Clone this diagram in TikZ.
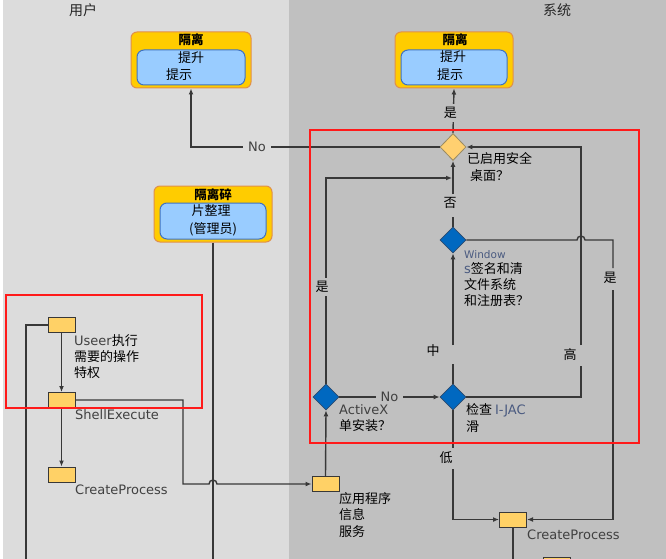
\documentclass[tikz,border=0pt]{standalone}
\usepackage{fontspec}
\setmainfont{Noto Sans CJK SC}
\newfontfamily\lat{DejaVu Sans}
\usetikzlibrary{shapes.geometric,arrows.meta}
\definecolor{userbg}{HTML}{DCDCDC}
\definecolor{sysbg}{HTML}{C0C0C0}
\definecolor{boxy}{HTML}{FFD166}
\definecolor{outery}{HTML}{FFCC00}
\definecolor{outerb}{HTML}{E0904A}
\definecolor{innerb}{HTML}{99CCFF}
\definecolor{innerd}{HTML}{3F72C0}
\definecolor{dblue}{HTML}{0068C0}
\definecolor{dblueb}{HTML}{2C4A6E}
\definecolor{ydia}{HTML}{FFD070}
\definecolor{ydiab}{HTML}{9A8A60}
\definecolor{ln}{HTML}{383838}
\definecolor{latgray}{HTML}{404040}
\definecolor{latblue}{HTML}{4A5A80}
\definecolor{redr}{HTML}{FF1A1A}
\tikzset{
  conn/.style={draw=ln, line width=1.4pt},
  arr/.style={conn, -{Latex[length=6pt,width=5pt]}},
  sbox/.style={draw=ln, fill=boxy, line width=1pt, minimum width=27pt, minimum height=15pt, inner sep=0pt},
  outerbox/.style={draw=outerb, fill=outery, line width=1pt, rounded corners=6pt, inner sep=0pt},
  innerbox/.style={draw=innerd, fill=innerb, line width=1pt, rounded corners=7pt, inner sep=0pt},
  bdia/.style={diamond, aspect=1, draw=dblueb, fill=dblue, line width=0.8pt, minimum width=26pt, minimum height=26pt, inner sep=0pt},
  ydiastyle/.style={diamond, aspect=1, draw=ydiab, fill=ydia, line width=0.8pt, minimum width=26pt, minimum height=27pt, inner sep=0pt},
  cj/.style={font=\fontsize{13}{15}\selectfont, inner sep=0pt, text=black},
  cjb/.style={font=\bfseries\fontsize{12.5}{15}\selectfont, inner sep=0pt, text=black},
  la/.style={font=\lat\fontsize{13}{15}\selectfont, inner sep=0pt, text=latgray},
  ttl/.style={font=\fontsize{14}{16}\selectfont, inner sep=0pt, text=black!85},
  redbox/.style={draw=redr, line width=2.6pt},
}
\begin{document}
\begin{tikzpicture}[x=1pt,y=-1pt]
\useasboundingbox (0,0) rectangle (666,559);
\clip (0,0) rectangle (666,559);
% lanes
\fill[white] (0,0) rectangle (666,559);
\fill[userbg] (3,0) rectangle (289,559);
\fill[sysbg] (289,0) rectangle (666,559);
\node[ttl, anchor=base] (tuser) at (83,16) {用户};
\node[ttl, anchor=base] (tsys) at (557,16) {系统};

% big boxes
\node[outerbox, minimum width=120pt, minimum height=56pt] (elevL) at (191,60) {};
\node[innerbox, minimum width=108pt, minimum height=35pt] (elevLi) at (191,67.5) {};
\node[cjb, anchor=base] (elevLt) at (191,45) {隔离};
\node[cj, anchor=base] (elevLa) at (191,63) {提升};
\node[cj, anchor=base] (elevLb) at (179,80) {提示};

\node[outerbox, minimum width=118pt, minimum height=56pt] (elevR) at (454,60) {};
\node[innerbox, minimum width=106pt, minimum height=35pt] (elevRi) at (454,67.5) {};
\node[cjb, anchor=base] (elevRt) at (455,45) {隔离};
\node[cj, anchor=base] (elevRa) at (453,62) {提升};
\node[cj, anchor=base] (elevRb) at (450,80) {提示};

\node[outerbox, minimum width=118pt, minimum height=56pt] (defrag) at (213,214) {};
\node[innerbox, minimum width=106pt, minimum height=36pt] (defragi) at (213,221) {};
\node[cjb, anchor=base] (defragt) at (213,199) {隔离碎};
\node[cj, anchor=base] (defraga) at (211,215) {片整理};
\node[cj, anchor=base] (defragb) at (213,233) {(管理员)};

% small boxes
\node[sbox] (u1) at (61.5,325) {};
\node[sbox] (u2) at (61.5,400) {};
\node[sbox] (u3) at (61.5,474.5) {};
\node[sbox] (ais) at (325.5,484) {};
\node[sbox] (cp) at (513,519.5) {};
\node[sbox] (cp2) at (556.5,564.5) {};

% diamonds
\node[ydiastyle] (yd) at (453,147) {};
\node[bdia] (win) at (453,240) {};
\node[bdia] (ax) at (326,397) {};
\node[bdia] (chk) at (453,397) {};

% coordinates
\coordinate (botL) at (26,559);
\coordinate (botM) at (213,559);
\coordinate (botC) at (513,559);
\coordinate (j1) at (452,178);
\coordinate (mA) at (453,364);
\coordinate (mB) at (453,345);
\coordinate (lA) at (453,448);
\coordinate (lB) at (453,469);
\coordinate (hA) at (581,366);
\coordinate (hB) at (581,345);
\coordinate (nA) at (453,217);
\coordinate (nB) at (453,194);
\coordinate (sA) at (613,268);
\coordinate (sB) at (613,290);

% connectors - user lane
\draw[arr] (u1.south) -- (u2.north);
\draw[arr] (u2.south) -- (u3.north);
\draw[conn] (u1.west) -| (botL);
\draw[conn] (defrag.south) -- (botM);
\draw[arr] (u2.east) -- (183,400) -- (183,484) -- (209,484) arc[start angle=180, end angle=0, radius=4pt] -- (ais.west);

% system lane
\draw[arr] (ais.north) -- (ax.south);
\draw[arr] (ax.north) -- node[cj, fill=sysbg, inner sep=3pt, xshift=-4pt, pos=0.47] (lblyes1) {是} (326,178) -- (j1);
\draw[arr] (ax.east) -- node[la, fill=sysbg, inner xsep=5pt, inner ysep=2pt] (lblno2) {No} (chk.west);
\draw[conn] (chk.north) -- (mA);
\draw[arr] (mB) -- (win.south);
\node[cj] (lblmid) at (433,351) {中};
\draw[conn] (chk.south) -- (lA);
\draw[arr] (lB) |- (cp.west);
\node[cj] (lbllow) at (446,458) {低};
\draw[conn] (chk.east) -| (hA);
\draw[arr] (hB) |- (yd.east);
\node[cj] (lblhigh) at (570,355) {高};
\draw[conn] (win.north) -- (nA);
\draw[arr] (nB) -- (yd.south);
\node[cj] (lblno3) at (450,203) {否};
\draw[conn] (win.east) -- (577,240) arc[start angle=180, end angle=0, radius=4pt] -- (613,240) -- (sA);
\draw[arr] (sB) |- (cp.east);
\node[cj] (lblyes2) at (610,278) {是};
\draw[arr] (yd.north) -- node[cj, fill=sysbg, inner sep=3.5pt, pos=0.45, xshift=-3pt] (lblyes3) {是} (elevR.south);
\draw[arr] (yd.west) -- node[la, fill=userbg, inner xsep=5pt, inner ysep=2pt, pos=0.735] (lblno1) {No} (191,147) -- (elevL.south);
\draw[conn] (cp.south) -- (botC);

% node labels
\node[cj, anchor=base west] (ydl1) at (467,163) {已启用安全};
\node[cj, anchor=base west] (ydl2) at (470,180) {桌面？};
\node[cj, anchor=base west, font=\lat\fontsize{10.5}{12}\selectfont, text=latblue] (winl0) at (464,258) {Window};
\node[cj, anchor=base west] (winl1) at (464,273) {{\lat\color{latblue}s}签名和清};
\node[cj, anchor=base west] (winl2) at (464,289) {文件系统};
\node[cj, anchor=base west] (winl3) at (464,305) {和注册表？};
\node[cj, anchor=base west] (chkl1) at (466,414) {检查 {\lat\fontsize{13}{15}\selectfont\color{latblue}I-JAC}};
\node[cj, anchor=base west] (chkl2) at (466,431) {滑};
\node[la, anchor=base west] (axl1) at (339,414) {ActiveX};
\node[cj, anchor=base west] (axl2) at (339,430) {单安装？};
\node[cj, anchor=base west] (aisl1) at (339,503) {应用程序};
\node[cj, anchor=base west] (aisl2) at (339,519) {信息};
\node[cj, anchor=base west] (aisl3) at (339,536) {服务};
\node[cj, anchor=base west] (u1l1) at (74,345) {{\lat\fontsize{13}{15}\selectfont\color{latgray}Useer}执行};
\node[cj, anchor=base west] (u1l2) at (74,361) {需要的操作};
\node[cj, anchor=base west] (u1l3) at (74,377) {特权};
\node[la, anchor=base west] (u2l) at (75,419) {ShellExecute};
\node[la, anchor=base west] (u3l) at (75,494) {CreateProcess};
\node[la, anchor=base west] (cpl) at (527,539) {CreateProcess};

% red highlight frames
\draw[redbox] (310,130) rectangle (639,443);
\draw[redbox] (6,295) rectangle (202,408);
\end{tikzpicture}
\end{document}
